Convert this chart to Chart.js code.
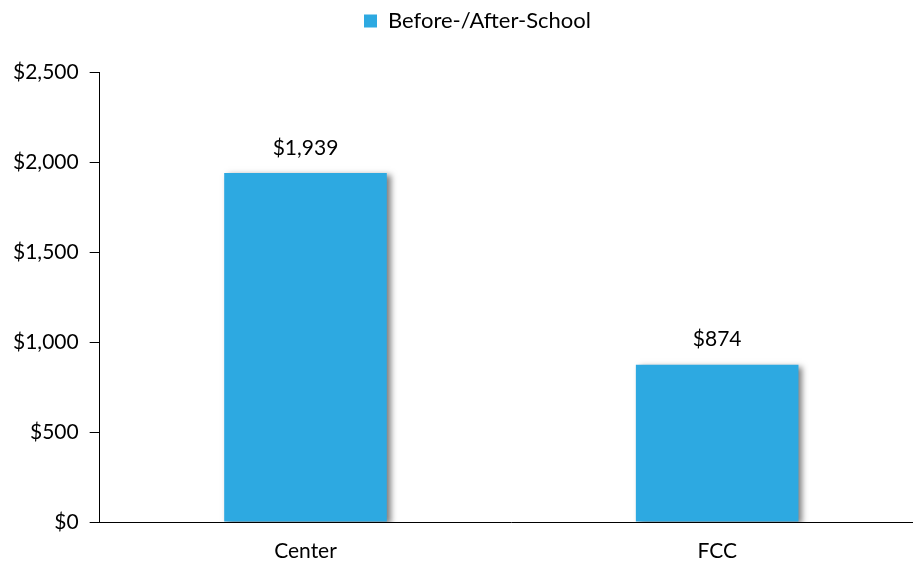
<!DOCTYPE html>
<html>
<head>
<meta charset="utf-8">
<script src="https://cdn.jsdelivr.net/npm/chart.js@4"></script>
<style>
  html, body { margin: 0; padding: 0; background: #fff; overflow: hidden; }
  #wrap { width: 923px; height: 567px; }
</style>
</head>
<body>
<div id="wrap"><canvas id="chart"></canvas></div>
<script>
// Data
const categories = ['Center', 'FCC'];
const seriesName = 'Before-/After-School';
const seriesValues = [1939, 874];
const yTicks = [0, 500, 1000, 1500, 2000, 2500];

const fontFamily = 'Lato, "Open Sans", sans-serif';
const fontSize = 21;

// Format a number as $1,234
function money(v) {
    return '$' + v.toLocaleString('en-US');
}

// Extra space under the legend, and nudge it right a little
const legendGap = {
    id: 'legendGap',
    beforeInit(chart) {
        const fit = chart.legend.fit;
        chart.legend.fit = function () {
            fit.call(this);
            this.height += 30;
        };
    },
    afterLayout(chart) {
        chart.legend.left += 15;
        chart.legend.right += 15;
    }
};

// Drop shadow behind the bars
const barShadow = {
    id: 'barShadow',
    beforeDatasetDraw(chart) {
        const ctx = chart.ctx;
        ctx.save();
        ctx.shadowColor = 'rgba(0,0,0,0.5)';
        ctx.shadowBlur = 6;
        ctx.shadowOffsetX = 4;
        ctx.shadowOffsetY = 2;
    },
    afterDatasetDraw(chart) {
        chart.ctx.restore();
    }
};

// Value labels above the bars
const valueLabels = {
    id: 'valueLabels',
    afterDatasetsDraw(chart) {
        const ctx = chart.ctx;
        const meta = chart.getDatasetMeta(0);
        ctx.save();
        ctx.font = fontSize + 'px ' + fontFamily;
        ctx.fillStyle = '#000';
        ctx.textAlign = 'center';
        ctx.textBaseline = 'middle';
        meta.data.forEach((bar, i) => {
            ctx.fillText(money(seriesValues[i]), bar.x, bar.y - 25);
        });
        ctx.restore();
    }
};

const ctx = document.getElementById('chart').getContext('2d');
new Chart(ctx, {
    type: 'bar',
    data: {
        labels: categories,
        datasets: [{
            label: seriesName,
            data: seriesValues,
            backgroundColor: '#2DA9E1',
            borderWidth: 0,
            barPercentage: 0.395,
            categoryPercentage: 1
        }]
    },
    options: {
        responsive: true,
        maintainAspectRatio: false,
        animation: false,
        layout: { padding: { top: 0, right: 0, left: 2, bottom: 2 } },
        plugins: {
            legend: {
                position: 'top',
                labels: {
                    font: { family: fontFamily, size: 22 },
                    color: '#000',
                    boxWidth: 13,
                    boxHeight: 13,
                    padding: 10
                }
            },
            tooltip: { enabled: false }
        },
        scales: {
            x: {
                afterFit(axis) {
                    axis.height = 43;
                },
                grid: { display: false, drawTicks: false },
                border: { display: true, color: '#000', width: 1 },
                ticks: {
                    font: { family: fontFamily, size: fontSize },
                    color: '#000',
                    padding: 17
                }
            },
            y: {
                min: 0,
                max: 2500,
                afterBuildTicks(axis) {
                    axis.ticks = yTicks.map(v => ({ value: v }));
                },
                grid: {
                    display: true,
                    drawOnChartArea: false,
                    drawTicks: true,
                    tickLength: 10,
                    color: '#000'
                },
                border: { display: true, color: '#000', width: 1 },
                ticks: {
                    font: { family: fontFamily, size: fontSize },
                    color: '#000',
                    padding: 11,
                    callback: v => money(v)
                }
            }
        }
    },
    plugins: [legendGap, barShadow, valueLabels]
});
</script>
</body>
</html>
